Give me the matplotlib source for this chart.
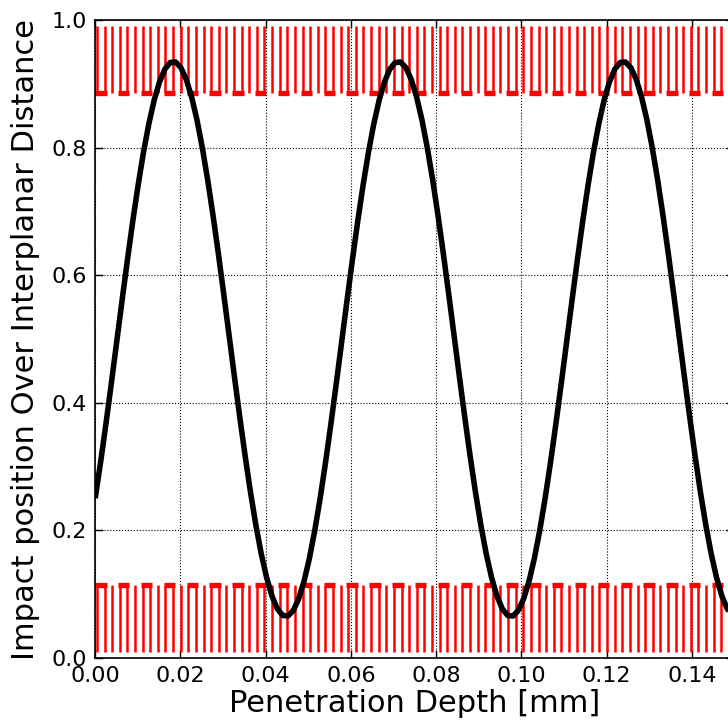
import numpy as np
import matplotlib
matplotlib.use("Agg")
import matplotlib.pyplot as plt

# ---- data ----
depth_step = 0.001257          # sampling step of the trajectory [mm]
impact_pos = [
    0.2505, 0.3064, 0.3666, 0.4298, 0.4946, 0.5595, 0.6230, 0.6838, 0.7405, 0.7919,
    0.8367, 0.8740, 0.9029, 0.9229, 0.9333, 0.9342, 0.9253, 0.9069, 0.8794, 0.8434,
    0.7997, 0.7495, 0.6936, 0.6334, 0.5702, 0.5054, 0.4405, 0.3770, 0.3162, 0.2595,
    0.2081, 0.1633, 0.1260, 0.0971, 0.0771, 0.0667, 0.0658, 0.0747, 0.0931, 0.1206,
    0.1566, 0.2003,
    0.2505, 0.3064, 0.3666, 0.4298, 0.4946, 0.5595, 0.6230, 0.6838, 0.7405, 0.7919,
    0.8367, 0.8740, 0.9029, 0.9229, 0.9333, 0.9342, 0.9253, 0.9069, 0.8794, 0.8434,
    0.7997, 0.7495, 0.6936, 0.6334, 0.5702, 0.5054, 0.4405, 0.3770, 0.3162, 0.2595,
    0.2081, 0.1633, 0.1260, 0.0971, 0.0771, 0.0667, 0.0658, 0.0747, 0.0931, 0.1206,
    0.1566, 0.2003,
    0.2505, 0.3064, 0.3666, 0.4298, 0.4946, 0.5595, 0.6230, 0.6838, 0.7405, 0.7919,
    0.8367, 0.8740, 0.9029, 0.9229, 0.9333, 0.9342, 0.9253, 0.9069, 0.8794, 0.8434,
    0.7997, 0.7495, 0.6936, 0.6334, 0.5702, 0.5054, 0.4405, 0.3770, 0.3162, 0.2595,
    0.2081, 0.1633, 0.1260, 0.0971, 0.0771, 0.0667, 0.0658, 0.0747, 0.0931, 0.1206,
    0.1566, 0.2003,
]
depth = np.arange(len(impact_pos)) * depth_step

plane_first = 0.0004           # first atomic row position [mm]
plane_spacing = 0.001787       # spacing of atomic rows [mm]
upper_band = (0.885, 0.99)
lower_band = (0.01, 0.115)

xlim = (0.0, 0.15)
ylim = (0.0, 1.0)
xticks = [0.00, 0.02, 0.04, 0.06, 0.08, 0.10, 0.12, 0.14]
xtick_labels = ["0.00", "0.02", "0.04", "0.06", "0.08", "0.10", "0.12", "0.14"]
yticks = [0.0, 0.2, 0.4, 0.6, 0.8, 1.0]
ytick_labels = ["0.0", "0.2", "0.4", "0.6", "0.8", "1.0"]

xlabel = "Penetration Depth [mm]"
ylabel = "Impact position Over Interplanar Distance"

# ---- figure ----
W = 728
fig = plt.figure(figsize=(7.28, 7.28), dpi=100)
ax = fig.add_axes([95.2 / W, 70 / W, 639.2 / W, 638 / W])

rows = np.arange(plane_first, xlim[1], plane_spacing)
red = "#ff0000"
ax.vlines(rows, upper_band[0], upper_band[1], color=red, lw=1.8, zorder=2)
ax.vlines(rows, lower_band[0], lower_band[1], color=red, lw=1.8, zorder=2)
starts = rows[0:-1:3] - 0.0004
ends = rows[1::3][:len(starts)] + 0.00047
ax.hlines(np.full(len(starts), upper_band[0]), starts, ends, color=red, lw=3.8,
          capstyle="butt", zorder=2)
ax.hlines(np.full(len(starts), lower_band[1]), starts, ends, color=red, lw=3.8,
          capstyle="butt", zorder=2)

ax.plot(depth, impact_pos, color="black", lw=4.0, zorder=5, solid_capstyle="butt")

ax.set_xlim(*xlim)
ax.set_ylim(*ylim)
ax.set_xticks(xticks)
ax.set_xticklabels(xtick_labels)
ax.set_yticks(yticks)
ax.set_yticklabels(ytick_labels)
ax.grid(True, color="black", linestyle=":", lw=0.8, zorder=1)
ax.set_axisbelow(True)
ax.tick_params(direction="in", top=True, right=True, length=6, width=1,
               labelsize=16, pad=6)
for s in ax.spines.values():
    s.set_linewidth(1.2)
ax.set_xlabel(xlabel, fontsize=22, labelpad=2)
ax.set_ylabel(ylabel, fontsize=22, labelpad=8)

fig.savefig("out.png", dpi=100)
